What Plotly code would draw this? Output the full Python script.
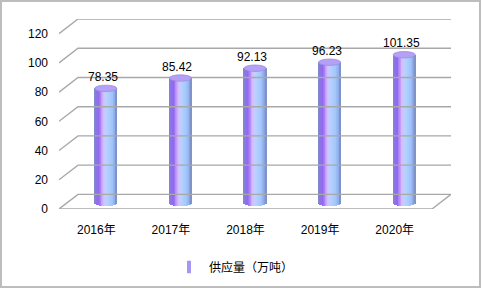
import numpy as np
import plotly.graph_objects as go

# ---------------- data ----------------
categories = ["2016年", "2017年", "2018年", "2019年", "2020年"]
values = [78.35, 85.42, 92.13, 96.23, 101.35]
value_labels = ["78.35", "85.42", "92.13", "96.23", "101.35"]
y_ticks = [0, 20, 40, 60, 80, 100, 120]
series_name = "供应量（万吨）"

# ---------------- layout constants ----------------
W, H = 482, 290
ML, MR, MT, MB = 59, 31, 19, 81
DX = 0.2547          # depth offset (x, category units)
DY = 10.0            # depth offset (y, value units)
X0, X1 = -0.5, len(categories) - 0.5
HW = 0.148           # cylinder half width
EH = 2.2             # ellipse half height (value units)
BASE = DY * 0.42     # bar base plane (mid depth)
FONT = "Liberation Sans, Arial, Noto Sans CJK SC, sans-serif"
GRID = "#a8a8a8"

stops = [(0.0, "#7d8cc4"), (0.07, "#8a7ae2"), (0.22, "#9168f2"),
         (0.42, "#dcbaff"), (0.55, "#b8d2ff"), (0.8, "#a2c6fb"),
         (0.93, "#8fabea"), (1.0, "#7b8bbf")]


def hex2rgb(h):
    h = h.lstrip("#")
    return np.array([int(h[i:i + 2], 16) for i in (0, 2, 4)], float)


def grad(t):
    for (a, ca), (b, cb) in zip(stops[:-1], stops[1:]):
        if a <= t <= b:
            f = (t - a) / (b - a)
            c = hex2rgb(ca) * (1 - f) + hex2rgb(cb) * f
            return "rgb(%d,%d,%d)" % tuple(np.round(c))
    return stops[-1][1]


fig = go.Figure()

# ---------------- walls / gridlines ----------------
wx, wy = [], []
for t in y_ticks:
    wx += [X0, X0 + DX, X1 + DX, None]
    wy += [t, t + DY, t + DY, None]
wx += [X0, X1, X1 + DX, None]
wy += [0, 0, DY, None]
fig.add_trace(go.Scatter(x=wx, y=wy, mode="lines", line=dict(color=GRID, width=1.4),
                         hoverinfo="skip", showlegend=False))

# ---------------- cylinders (strips) ----------------
N = 30
xs_c = [i + DX / 2 for i in range(len(categories))]
for k in range(N):
    u = -1 + (2 * k + 1) / N
    base = BASE - EH * np.sqrt(max(0.0, 1 - u * u))
    fig.add_trace(go.Bar(
        x=[xc + u * HW for xc in xs_c],
        y=[v + BASE - base for v in values],
        base=[base] * len(values),
        width=2 * HW / N * 1.35,
        marker=dict(color=grad((u + 1) / 2), line=dict(width=0)),
        hoverinfo="skip", showlegend=False))

# legend entry
fig.add_trace(go.Scatter(x=[None], y=[None], mode="markers", name=series_name,
                         marker=dict(symbol="line-ns", size=9,
                                     line=dict(color="#a896f4", width=4))))

shapes = []
for xc, v in zip(xs_c, values):
    shapes.append(dict(type="circle", xref="x", yref="y",
                       x0=xc - HW, x1=xc + HW, y0=v + BASE - EH, y1=v + BASE + EH,
                       fillcolor="#b4a0f6", line=dict(color="#9c8ee0", width=0.8)))

# outer border
pw, ph = W - ML - MR, H - MT - MB
shapes.append(dict(type="rect", xref="paper", yref="paper",
                   x0=(1 - ML) / pw, x1=(480 - ML) / pw,
                   y0=(H - MB - 287) / ph, y1=(H - MB - 1) / ph,
                   line=dict(color="#bdbdbd", width=2), fillcolor="rgba(0,0,0,0)"))

annotations = []
for xc, v, lab in zip(xs_c, values, value_labels):
    annotations.append(dict(x=xc, y=v + BASE, text=lab, showarrow=False,
                            xanchor="center", yanchor="middle", yshift=11.5, xshift=-3,
                            font=dict(family=FONT, size=12, color="#000")))

fig.update_layout(
    width=W, height=H, margin=dict(l=ML, r=MR, t=MT, b=MB),
    paper_bgcolor="white", plot_bgcolor="rgba(0,0,0,0)",
    barmode="overlay", bargap=0, hovermode=False,
    font=dict(family=FONT, size=12, color="#000"),
    shapes=shapes, annotations=annotations,
    xaxis=dict(range=[X0, X1 + DX], tickmode="array", tickvals=list(range(len(categories))),
               ticktext=categories, showgrid=False, zeroline=False, showline=False,
               ticks="", ticklabelstandoff=12, fixedrange=True),
    yaxis=dict(range=[0, 120 + DY], tickmode="array", tickvals=y_ticks,
               showgrid=False, zeroline=False, showline=False,
               ticks="", ticklabelstandoff=10, fixedrange=True),
    showlegend=True,
    legend=dict(orientation="h", xref="container", yref="container",
                x=234 / W, y=1 - 267 / H, xanchor="center", yanchor="middle",
                font=dict(family=FONT, size=12, color="#000"),
                bgcolor="rgba(0,0,0,0)"),
)

fig.write_html("out.html")
